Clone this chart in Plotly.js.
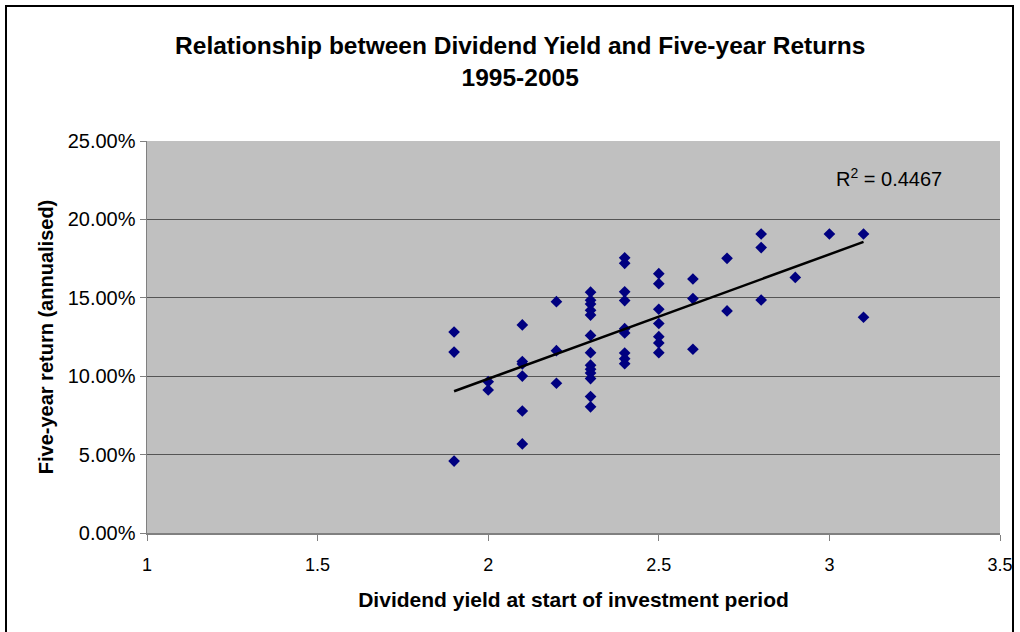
<!DOCTYPE html>
<html>
<head>
<meta charset="utf-8">
<script src="https://cdn.plot.ly/plotly-3.0.1.min.js"></script>
<style>
  html, body { margin: 0; padding: 0; background: #ffffff; }
  #wrap { position: relative; width: 1020px; height: 632px; }
  #chart { position: absolute; left: 0; top: 0; width: 1020px; height: 632px; }
  #frame { position: absolute; left: 5px; top: 5px; width: 1005px; height: 640px; border: 2px solid #000; pointer-events: none; }
</style>
</head>
<body>
<div id="wrap">
  <div id="chart"></div>
  <div id="frame"></div>
</div>
<script>
// Dividend yield at start of investment period (x) and five-year annualised return in % (y)
const dividendYield = [
  1.9, 1.9, 1.9,
  2.0, 2.0,
  2.1, 2.1, 2.1, 2.1, 2.1, 2.1,
  2.2, 2.2, 2.2,
  2.3, 2.3, 2.3, 2.3, 2.3, 2.3, 2.3, 2.3, 2.3, 2.3, 2.3, 2.3, 2.3,
  2.4, 2.4, 2.4, 2.4, 2.4, 2.4, 2.4, 2.4, 2.4,
  2.5, 2.5, 2.5, 2.5, 2.5, 2.5, 2.5,
  2.6, 2.6, 2.6,
  2.7, 2.7,
  2.8, 2.8, 2.8,
  2.9,
  3.0,
  3.1, 3.1
];
const fiveYearReturn = [
  12.82, 11.54, 4.59,
  9.65, 9.12,
  13.27, 10.93, 10.78, 10.01, 7.78, 5.68,
  14.75, 11.63, 9.55,
  15.36, 14.85, 14.60, 14.20, 13.90, 12.60, 11.50, 10.70, 10.45, 10.20, 9.85, 8.70, 8.05,
  17.55, 17.20, 15.38, 14.82, 13.03, 12.76, 11.48, 11.12, 10.80,
  16.54, 15.90, 14.27, 13.36, 12.52, 12.12, 11.50,
  16.20, 14.95, 11.72,
  17.52, 14.16,
  19.07, 18.20, 14.86,
  16.30,
  19.07,
  19.07, 13.76
];
const yTicks = [0, 5, 10, 15, 20, 25];
const xTicks = [1, 1.5, 2, 2.5, 3, 3.5];
const rSquaredLabel = "R<sup>2</sup> = 0.4467";

// Linear least-squares trendline computed from the data
const n = dividendYield.length;
const mx = dividendYield.reduce((a, b) => a + b, 0) / n;
const my = fiveYearReturn.reduce((a, b) => a + b, 0) / n;
let sxy = 0, sxx = 0;
for (let i = 0; i < n; i++) {
  sxy += (dividendYield[i] - mx) * (fiveYearReturn[i] - my);
  sxx += (dividendYield[i] - mx) * (dividendYield[i] - mx);
}
const slope = sxy / sxx;
const intercept = my - slope * mx;
const xMin = Math.min(...dividendYield), xMax = Math.max(...dividendYield);
const trendX = [xMin, xMax];
const trendY = trendX.map(v => intercept + slope * v);

const font = "Liberation Sans, Arial, sans-serif";

const traces = [
  {
    type: "scatter", mode: "markers",
    x: dividendYield, y: fiveYearReturn,
    marker: { symbol: "diamond", size: 9, color: "#000080", line: { width: 0 } },
    hoverinfo: "x+y", showlegend: false
  },
  {
    type: "scatter", mode: "lines",
    x: trendX, y: trendY,
    line: { color: "#000000", width: 2.5 },
    hoverinfo: "skip", showlegend: false
  }
];

const layout = {
  width: 1020, height: 632,
  margin: { l: 147, r: 20, t: 141, b: 99, pad: 0 },
  paper_bgcolor: "rgba(0,0,0,0)",
  plot_bgcolor: "#c0c0c0",
  font: { family: font, size: 16, color: "#000" },
  title: {
    text: "<b>Relationship between Dividend Yield and Five-year Returns<br>1995-2005</b>",
    font: { family: font, size: 24.5, color: "#000" },
    x: 0.51, xref: "container", xanchor: "center",
    y: 1 - 54 / 632, yref: "container", yanchor: "middle"
  },
  xaxis: {
    range: [1, 3.5], tickvals: xTicks, ticktext: xTicks.map(String),
    showgrid: false, zeroline: false,
    showline: true, linecolor: "#808080", linewidth: 1.5,
    ticks: "outside", ticklen: 6, tickcolor: "#808080", tickwidth: 1,
    ticklabelstandoff: 9,
    tickfont: { family: font, size: 18 },
    title: { text: "<b>Dividend yield at start of investment period</b>", font: { family: font, size: 21 }, standoff: 18 }
  },
  yaxis: {
    range: [0, 25], tickvals: yTicks, ticktext: yTicks.map(v => v.toFixed(2) + "%"),
    showgrid: true, gridcolor: "#555555", gridwidth: 1,
    zeroline: false,
    showline: true, linecolor: "#808080", linewidth: 1.5,
    ticks: "outside", ticklen: 6, tickcolor: "#808080", tickwidth: 1,
    tickfont: { family: font, size: 20 },
    title: { text: "<b>Five-year return (annualised)</b>", font: { family: font, size: 20 }, standoff: 8 }
  },
  annotations: [
    {
      text: rSquaredLabel, xref: "paper", yref: "paper",
      x: (889 - 147) / 853, y: (533 - 177) / 392,
      xanchor: "center", yanchor: "middle", showarrow: false,
      font: { family: font, size: 20, color: "#000" }
    }
  ]
};

Plotly.newPlot("chart", traces, layout, { displayModeBar: false, staticPlot: true });
</script>
</body>
</html>
